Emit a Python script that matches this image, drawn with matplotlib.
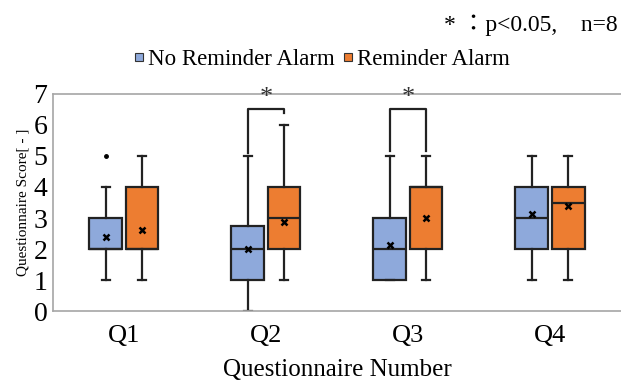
import matplotlib.pyplot as plt

plt.rcParams['font.family'] = ['Liberation Serif', 'Noto Sans CJK JP']

# Box statistics
questions = ['Q1', 'Q2', 'Q3', 'Q4']
groups = ['No Reminder Alarm', 'Reminder Alarm']
colors = ['#8EA9DB', '#ED7D31']

no_whislo = [1, 0, 1, 1]
no_q1 = [2, 1, 1, 2]
no_med = [2, 2, 2, 3]
no_q3 = [3, 2.75, 3, 4]
no_whishi = [4, 5, 5, 5]
no_mean = [2.375, 2.0, 2.125, 3.125]
no_fliers = [[5], [], [], []]

al_whislo = [1, 1, 1, 1]
al_q1 = [2, 2, 2, 2]
al_med = [2, 3, 4, 3.5]
al_q3 = [4, 4, 4, 4]
al_whishi = [5, 6, 5, 5]
al_mean = [2.625, 2.875, 3.0, 3.375]
al_fliers = [[], [], [], []]

# significance brackets: (question index, left leg bottom, right leg bottom)
sig_q = [1, 2]
sig_left_bottom = [5.1, 5.15]
sig_right_bottom = [6.4, 5.15]
sig_top = 6.5


def make_stats(lo, q1, med, q3, hi, mean, fl):
    return [dict(whislo=a, q1=b, med=c, q3=d, whishi=e, mean=f, fliers=g)
            for a, b, c, d, e, f, g in zip(lo, q1, med, q3, hi, mean, fl)]


fig = plt.figure(figsize=(6.21, 3.85), dpi=100)
ax = fig.add_axes([0.0853, 0.192, 0.9147, 0.564])

offset = 0.128
width = 0.23
all_stats = [make_stats(no_whislo, no_q1, no_med, no_q3, no_whishi, no_mean, no_fliers),
             make_stats(al_whislo, al_q1, al_med, al_q3, al_whishi, al_mean, al_fliers)]

for i, stats in enumerate(all_stats):
    pos = [k + 1 + (i * 2 - 1) * offset for k in range(len(questions))]
    ax.bxp(stats, positions=pos, widths=width, capwidths=0.06,
           showmeans=True, patch_artist=True,
           boxprops=dict(facecolor=colors[i], edgecolor='#222222', linewidth=1.6),
           medianprops=dict(color='#222222', linewidth=1.6),
           whiskerprops=dict(color='#222222', linewidth=1.6),
           capprops=dict(color='#222222', linewidth=1.6),
           meanprops=dict(marker='x', markeredgecolor='black', markersize=4.5,
                          markeredgewidth=1.8),
           flierprops=dict(marker='o', markerfacecolor='black', markeredgecolor='black',
                           markersize=2.5))

# significance brackets
for q, lb, rb in zip(sig_q, sig_left_bottom, sig_right_bottom):
    xl = q + 1 - offset
    xr = q + 1 + offset
    ax.plot([xl, xl, xr, xr], [lb, sig_top, sig_top, rb], color='#222222', lw=1.6)
    ax.text(q + 1, sig_top + 0.02, '*', ha='center', va='bottom', fontsize=19,
            color='#333333')

ax.set_xlim(0.5, 4.5)
ax.set_ylim(0, 7)
ax.set_xticks(range(1, len(questions) + 1))
ax.set_xticklabels(questions)
ax.set_yticks(range(0, 8))
ax.tick_params(length=0, pad=4)
ax.tick_params(axis='y', labelsize=20)
ax.tick_params(axis='x', labelsize=19, pad=10)
ax.set_xlabel('Questionnaire Number', fontsize=18, labelpad=9)
ax.set_ylabel('Questionnaire Score[ - ]', fontsize=11, labelpad=3)
for s in ['top', 'bottom', 'left']:
    ax.spines[s].set_color('#A6A6A6')
    ax.spines[s].set_linewidth(1.2)
ax.spines['right'].set_visible(False)

# legend
handles = [plt.Line2D([], [], marker='s', linestyle='none', markerfacecolor=c,
                      markeredgecolor='#333333', markersize=6, markeredgewidth=0.8)
           for c in colors]
fig.legend(handles, groups, loc='center', bbox_to_anchor=(0.515, 0.845), ncol=2,
           frameon=False, fontsize=16.5, handletextpad=0.0, columnspacing=0.2,
           handlelength=0.8)

fig.text(0.994, 0.935, '* ：p<0.05,　n=8', ha='right', va='center', fontsize=17)

fig.savefig('out.png', dpi=100)
